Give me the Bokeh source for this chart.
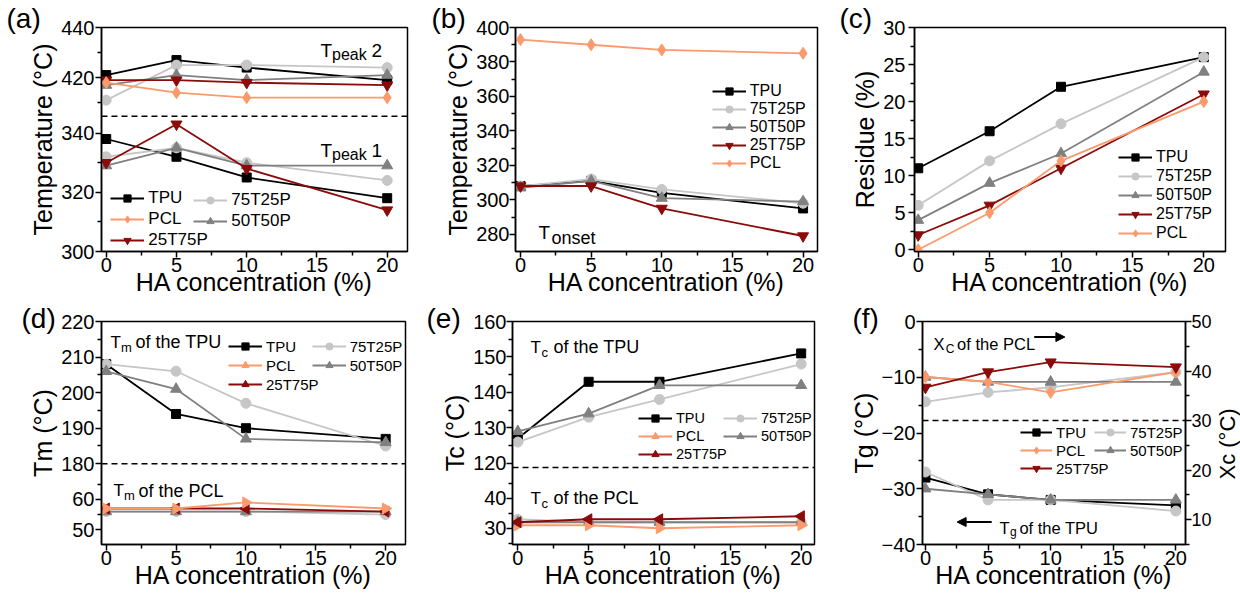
import math
from bokeh.plotting import figure
from bokeh.models import (Range1d, LinearAxis, FixedTicker, Span, Label, Title,
                          Legend, LegendItem, Arrow, NormalHead)
from bokeh.layouts import column, row
from bokeh.embed import file_html
from bokeh.resources import INLINE

# ---------------- data ----------------
ha_conc = [0, 5, 10, 20]
x_ticks = [0, 5, 10, 15, 20]

# (a) Tpeak (°C)
a_tpeak2_TPU = [421, 427, 424, 419]
a_tpeak2_75T25P = [411, 425, 425, 424]
a_tpeak2_50T50P = [417, 421, 419, 421]
a_tpeak2_25T75P = [419, 419, 418, 417]
a_tpeak2_PCL = [418, 414, 412, 412]
a_tpeak1_TPU = [338, 332, 325, 318]
a_tpeak1_75T25P = [332, 335, 330, 324]
a_tpeak1_50T50P = [329, 335, 329, 329]
a_tpeak1_25T75P = [330, 343, 328, 314]
a_ticks_low = [300, 320, 340]
a_ticks_up = [420, 440]

# (b) Tonset (°C)
b_TPU = [308, 311, 304, 295]
b_75T25P = [308, 312, 306, 298]
b_50T50P = [307, 311, 301, 299]
b_25T75P = [308, 308, 295, 279]
b_PCL = [393, 390, 387, 385]
b_ticks = [280, 300, 320, 340, 360, 380, 400]

# (c) Residue (%)
c_TPU = [11, 16, 22, 26]
c_75T25P = [6, 12, 17, 26]
c_50T50P = [4, 9, 13, 24]
c_25T75P = [2, 6, 11, 21]
c_PCL = [0, 5, 12, 20]
c_ticks = [0, 5, 10, 15, 20, 25, 30]

# (d) Tm (°C)
d_tm_tpu_TPU = [208, 194, 190, 187]
d_tm_tpu_75T25P = [208, 206, 197, 185]
d_tm_tpu_50T50P = [206, 201, 187, 186]
d_tm_pcl_75T25P = [56, 56, 56, 55]
d_tm_pcl_50T50P = [56, 56, 56, 56]
d_tm_pcl_25T75P = [57, 57, 57, 56]
d_tm_pcl_PCL = [57, 57, 59, 57]
d_ticks_low = [50, 60]
d_ticks_up = [180, 190, 200, 210, 220]

# (e) Tc (°C)
e_tc_tpu_TPU = [127, 143, 143, 151]
e_tc_tpu_75T25P = [126, 133, 138, 148]
e_tc_tpu_50T50P = [129, 134, 142, 142]
e_tc_pcl_75T25P = [33, 32, 32, 32]
e_tc_pcl_50T50P = [32, 32, 32, 32]
e_tc_pcl_25T75P = [32, 33, 33, 34]
e_tc_pcl_PCL = [31, 31, 30, 31]
e_ticks_low = [30, 40]
e_ticks_up = [120, 130, 140, 150, 160]

# (f) Tg (°C, left) and Xc (right)
f_tg_TPU = [-28, -31, -32, -33]
f_tg_75T25P = [-27, -32, -32, -34]
f_tg_50T50P = [-30, -31, -32, -32]
f_xc_75T25P = [33.8, 35.7, 36.7, 39.8]
f_xc_50T50P = [38.8, 37.8, 37.8, 37.8]
f_xc_25T75P = [36.7, 39.8, 41.8, 40.8]
f_xc_PCL = [38.8, 37.8, 35.7, 39.8]
f_ticks_left = [-40, -30, -20, -10, 0]
f_ticks_right = [10, 20, 30, 40, 50]
f_xc_divider = 30

# ---------------- style ----------------
FONT = "Liberation Sans"
COL = {"TPU": "#000000", "75T25P": "#c6c6c6", "50T50P": "#808080",
       "25T75P": "#8b0a0a", "PCL": "#fb9a6c"}
MRK = {"TPU": "square", "75T25P": "circle", "50T50P": "triangle",
       "25T75P": "inverted_triangle", "PCL": "diamond"}
MSIZE = {"square": 9, "circle": 10, "triangle": 11,
         "inverted_triangle": 11, "diamond": 12}


class Panel:
    def __init__(self, x0, y0, W, H, bl, br, bt, bb, xr, yr):
        self.W, self.H = W, H
        self.bl, self.br, self.bt, self.bb = bl, br, bt, bb
        self.fl = x0 + bl
        self.ft = y0 + bt
        self.fw = W - bl - br
        self.fh = H - bt - bb
        self.xr, self.yr = xr, yr

    def dx(self, px):
        return self.xr[0] + (px - self.fl) / self.fw * (self.xr[1] - self.xr[0])

    def dy(self, py):
        return self.yr[1] - (py - self.ft) / self.fh * (self.yr[1] - self.yr[0])


def minors_of(majors, lo=None, hi=None):
    step = majors[1] - majors[0]
    m = [(a + b) / 2 for a, b in zip(majors[:-1], majors[1:])]
    if lo is not None and majors[0] - step / 2 >= lo:
        m.insert(0, majors[0] - step / 2)
    if hi is not None and majors[-1] + step / 2 <= hi:
        m.append(majors[-1] + step / 2)
    return m


def style_axis(ax, label_standoff=1, axis_label_standoff=0, tick_label_size="20px"):
    ax.axis_line_width = 1.5
    ax.axis_line_color = "black"
    ax.major_tick_in = 0
    ax.major_tick_out = 6
    ax.minor_tick_in = 0
    ax.minor_tick_out = 4
    ax.major_tick_line_width = 1.5
    ax.minor_tick_line_width = 1.5
    ax.major_tick_line_color = "black"
    ax.minor_tick_line_color = "black"
    ax.major_label_text_font = FONT
    ax.major_label_text_font_size = tick_label_size
    ax.major_label_text_color = "black"
    ax.major_label_standoff = label_standoff
    ax.axis_label_text_font = FONT
    ax.axis_label_text_font_size = "25px"
    ax.axis_label_text_font_style = "normal"
    ax.axis_label_text_color = "black"
    ax.axis_label_standoff = axis_label_standoff


def make_fig(g, ylabel, ystandoff=1):
    p = figure(width=g.W, height=g.H, x_range=Range1d(*g.xr), y_range=Range1d(*g.yr),
               output_backend="svg", toolbar_location=None, title=None,
               min_border_left=g.bl, min_border_right=g.br,
               min_border_top=g.bt, min_border_bottom=g.bb)
    p.xgrid.visible = False
    p.ygrid.visible = False
    p.outline_line_color = "black"
    p.outline_line_width = 1.5
    p.outline_line_alpha = 1.0
    p.background_fill_color = "white"
    p.border_fill_color = "white"
    p.xaxis.ticker = FixedTicker(ticks=x_ticks, minor_ticks=minors_of(x_ticks))
    p.xaxis.axis_label = "HA concentration (%)"
    style_axis(p.xaxis[0], label_standoff=0, axis_label_standoff=-7)
    p.yaxis.axis_label = ylabel
    style_axis(p.yaxis[0], label_standoff=ystandoff, axis_label_standoff=1)
    return p


def series(p, y, name, rng="default", marker=None, angle=0.0):
    c = COL[name]
    m = marker or MRK[name]
    ln = p.line(ha_conc, y, line_color=c, line_width=1.8, y_range_name=rng)
    sc = p.scatter(ha_conc, y, marker=m, size=MSIZE[m], fill_color=c, line_color=c,
                   angle=angle, y_range_name=rng)
    return [ln, sc]


def add_legend(p, items, vx, vy, spacing=1, gw=34, fs=16):
    lg = Legend(items=[LegendItem(label=n, renderers=r) for n, r in items],
                location=(vx, vy), orientation="vertical", padding=0, margin=0,
                spacing=spacing, glyph_width=gw, glyph_height=18, label_height=18,
                label_standoff=4, label_text_font=FONT, label_text_font_size=f"{fs}px",
                label_text_color="black", background_fill_alpha=0, border_line_alpha=0)
    p.add_layout(lg)


def txt(p, g, px, py, s, size, **kw):
    p.add_layout(Label(x=g.dx(px), y=g.dy(py), text=s, text_font=FONT,
                       text_font_size=f"{size}px", text_baseline="alphabetic",
                       text_align=kw.pop("align", "left"), text_color="black", **kw))


def panel_tag(p, g, px, text, standoff):
    p.add_layout(Title(text=text, align="left", offset=px - g.fl, standoff=standoff,
                       vertical_align="bottom", text_font=FONT, text_font_size="28px",
                       text_font_style="normal", text_color="black"), "above")


def split_ranges(low, up, frac_low):
    lo_end = low[0] + (low[1] - low[0]) / frac_low
    up_start = up[1] - (up[1] - up[0]) / (1 - frac_low)
    return (low[0], lo_end), (up_start, up[1])


def broken_axis(p, lo_rng, up_rng, low_seg, up_seg, ticks_low, ticks_up):
    def to_lo(v):
        return lo_rng[0] + (v - up_rng[0]) / (up_rng[1] - up_rng[0]) * (lo_rng[1] - lo_rng[0])
    maj = list(ticks_low) + [to_lo(v) for v in ticks_up]
    mn = minors_of(ticks_low, low_seg[0], low_seg[1]) + \
        [to_lo(v) for v in minors_of(ticks_up, up_seg[0], up_seg[1])]
    p.yaxis[0].ticker = FixedTicker(ticks=maj, minor_ticks=mn)
    labels = [str(v) for v in ticks_low] + [str(v) for v in ticks_up]
    p.yaxis[0].major_label_overrides = {k: s for k, s in zip(maj, labels)}
    p.add_layout(Span(location=low_seg[1], dimension="width", line_color="black",
                      line_width=1.5, line_dash="6 4"))


# ---------------- panel (a) ----------------
a_low_seg, a_up_seg = (300, 345.7), (404.6, 440)
a_lo, a_up = split_ranges(a_low_seg, a_up_seg, 0.604)
gA = Panel(0, 0, 410, 301, 101, 3, 27, 50, (-0.335, 21.445), a_lo)
pA = make_fig(gA, "Temperature (°C)", 1)
pA.extra_y_ranges = {"up": Range1d(*a_up)}
broken_axis(pA, a_lo, a_up, a_low_seg, a_up_seg, a_ticks_low, a_ticks_up)
rA = {}
for name, lo_y, up_y in [("TPU", a_tpeak1_TPU, a_tpeak2_TPU),
                         ("75T25P", a_tpeak1_75T25P, a_tpeak2_75T25P),
                         ("50T50P", a_tpeak1_50T50P, a_tpeak2_50T50P),
                         ("25T75P", a_tpeak1_25T75P, a_tpeak2_25T75P),
                         ("PCL", None, a_tpeak2_PCL)]:
    r = series(pA, up_y, name, "up")
    if lo_y is not None:
        r = series(pA, lo_y, name)
    rA[name] = r
add_legend(pA, [("TPU", rA["TPU"]), ("PCL", rA["PCL"]), ("25T75P", rA["25T75P"])], 9.3, 1.3, fs=17)
add_legend(pA, [("75T25P", rA["75T25P"]), ("50T50P", rA["50T50P"])], 92.3, 20.3, fs=17)
panel_tag(pA, gA, 6, "(a)", -12)
for py, num in [(50, "2"), (150, "1")]:
    txt(pA, gA, 320, py, "T", 19)
    txt(pA, gA, 331.5, py + 3.5, "peak", 16)
    txt(pA, gA, 371, py, num, 19)

# ---------------- panel (b) ----------------
gB = Panel(410, 0, 410, 301, 105, 3, 27, 50, (-0.354, 21.02), (270, 400))
pB = make_fig(gB, "Temperature (°C)", 0)
pB.yaxis[0].ticker = FixedTicker(ticks=b_ticks, minor_ticks=minors_of(b_ticks))
rB = {}
for name, y in [("TPU", b_TPU), ("75T25P", b_75T25P), ("50T50P", b_50T50P),
                ("25T75P", b_25T75P), ("PCL", b_PCL)]:
    rB[name] = series(pB, y, name)
add_legend(pB, [(n, rB[n]) for n in ["TPU", "75T25P", "50T50P", "25T75P", "PCL"]],
           196.7, 79.3, spacing=0)
panel_tag(pB, gB, 431, "(b)", -12)
txt(pB, gB, 538, 232, "T", 19)
txt(pB, gB, 551, 237, "onset", 18)

# ---------------- panel (c) ----------------
gC = Panel(820, 0, 420, 301, 94, 15, 27, 50, (-0.26, 21.52), (-0.23, 30))
pC = make_fig(gC, "Residue (%)", 3)
pC.yaxis[0].ticker = FixedTicker(ticks=c_ticks, minor_ticks=minors_of(c_ticks))
rC = {}
for name, y in [("TPU", c_TPU), ("75T25P", c_75T25P), ("50T50P", c_50T50P),
                ("25T75P", c_25T75P), ("PCL", c_PCL)]:
    rC[name] = series(pC, y, name)
add_legend(pC, [(n, rC[n]) for n in ["TPU", "75T25P", "50T50P", "25T75P", "PCL"]],
           204, 9.3, spacing=1)
panel_tag(pC, gC, 839, "(c)", -12)

# ---------------- panel (d) ----------------
d_low_seg, d_up_seg = (45.1, 71.8), (180, 220)
d_lo, d_up = split_ranges(d_low_seg, d_up_seg, 0.362)
gD = Panel(0, 301, 410, 294, 101, 5, 20, 51, (-0.336, 21.42), d_lo)
pD = make_fig(gD, "Tm (°C)", 1)
pD.extra_y_ranges = {"up": Range1d(*d_up)}
broken_axis(pD, d_lo, d_up, d_low_seg, d_up_seg, d_ticks_low, d_ticks_up)
rD = {}
rD["TPU"] = series(pD, d_tm_tpu_TPU, "TPU", "up")
series(pD, d_tm_tpu_75T25P, "75T25P", "up")
series(pD, d_tm_tpu_50T50P, "50T50P", "up")
rD["75T25P"] = series(pD, d_tm_pcl_75T25P, "75T25P")
rD["50T50P"] = series(pD, d_tm_pcl_50T50P, "50T50P")
rD["25T75P"] = series(pD, d_tm_pcl_25T75P, "25T75P", marker="triangle", angle=math.pi / 2)
rD["PCL"] = series(pD, d_tm_pcl_PCL, "PCL", marker="triangle", angle=-math.pi / 2)
add_legend(pD, [("TPU", rD["TPU"]), ("PCL", rD["PCL"]), ("25T75P", rD["25T75P"])], 127, 151, fs=15)
add_legend(pD, [("75T25P", rD["75T25P"]), ("50T50P", rD["50T50P"])], 210.7, 170, fs=15)
panel_tag(pD, gD, 21, "(d)", -24)
for py, tail, x0 in [(341.7, "of the TPU", 110), (490, "of the PCL", 113)]:
    txt(pD, gD, x0, py, "T", 17)
    txt(pD, gD, x0 + 10.5, py + 5, "m", 13)
    txt(pD, gD, x0 + 25, py, tail, 18)

# ---------------- panel (e) ----------------
e_low_seg, e_up_seg = (24.6, 50.2), (118.8, 160)
e_lo, e_up = split_ranges(e_low_seg, e_up_seg, 0.345)
gE = Panel(410, 301, 410, 294, 102, 6, 20, 51, (-0.374, 20.94), e_lo)
pE = make_fig(gE, "Tc (°C)", 0)
pE.extra_y_ranges = {"up": Range1d(*e_up)}
broken_axis(pE, e_lo, e_up, e_low_seg, e_up_seg, e_ticks_low, e_ticks_up)
rE = {}
rE["TPU"] = series(pE, e_tc_tpu_TPU, "TPU", "up")
series(pE, e_tc_tpu_75T25P, "75T25P", "up")
series(pE, e_tc_tpu_50T50P, "50T50P", "up")
rE["75T25P"] = series(pE, e_tc_pcl_75T25P, "75T25P")
rE["50T50P"] = series(pE, e_tc_pcl_50T50P, "50T50P")
rE["PCL"] = series(pE, e_tc_pcl_PCL, "PCL", marker="triangle", angle=-math.pi / 2)
rE["25T75P"] = series(pE, e_tc_pcl_25T75P, "25T75P", marker="triangle", angle=math.pi / 2)
add_legend(pE, [("TPU", rE["TPU"]), ("PCL", rE["PCL"]), ("25T75P", rE["25T75P"])], 126, 81.3,
           spacing=0, fs=14.5)
add_legend(pE, [("75T25P", rE["75T25P"]), ("50T50P", rE["50T50P"])], 211, 99.3,
           spacing=0, fs=14.5)
panel_tag(pE, gE, 426, "(e)", -24)
for py, tail in [(346.7, "of the TPU"), (497.7, "of the PCL")]:
    txt(pE, gE, 530, py, "T", 17)
    txt(pE, gE, 541, py + 5, "c", 13)
    txt(pE, gE, 553, py, tail, 18)

# ---------------- panel (f) ----------------
gF = Panel(820, 301, 394, 294, 102, 26, 20, 51, (-0.237, 20.77), (-40, 0))
pF = make_fig(gF, "Tg (°C)", 1)
pF.yaxis[0].ticker = FixedTicker(ticks=f_ticks_left, minor_ticks=minors_of(f_ticks_left))
pF.extra_y_ranges = {"xc": Range1d(5, 50)}
ax_r = LinearAxis(y_range_name="xc",
                  ticker=FixedTicker(ticks=f_ticks_right, minor_ticks=minors_of(f_ticks_right, 5, 50)))
style_axis(ax_r, label_standoff=0, tick_label_size="18px")
pF.add_layout(ax_r, "right")
pF.add_layout(Span(location=f_xc_divider, dimension="width", y_range_name="xc",
                   line_color="black", line_width=1.5, line_dash="6 4"))
rF = {}
rF["TPU"] = series(pF, f_tg_TPU, "TPU")
series(pF, f_tg_75T25P, "75T25P")
series(pF, f_tg_50T50P, "50T50P")
rF["75T25P"] = series(pF, f_xc_75T25P, "75T25P", "xc")
rF["50T50P"] = series(pF, f_xc_50T50P, "50T50P", "xc")
rF["PCL"] = series(pF, f_xc_PCL, "PCL", "xc")
rF["25T75P"] = series(pF, f_xc_25T75P, "25T75P", "xc")
add_legend(pF, [("TPU", rF["TPU"]), ("PCL", rF["PCL"]), ("25T75P", rF["25T75P"])], 98, 66.7,
           spacing=0, gw=32, fs=15)
add_legend(pF, [("75T25P", rF["75T25P"]), ("50T50P", rF["50T50P"])], 172, 84.7,
           spacing=0, gw=32, fs=15)
panel_tag(pF, gF, 852, "(f)", -24)
txt(pF, gF, 933, 343, "X", 16.5)
txt(pF, gF, 945.5, 348.5, "C", 12)
txt(pF, gF, 957, 343, "of the PCL", 16.5)
pF.add_layout(Arrow(x_start=gF.dx(1035), y_start=gF.dy(336.5), x_end=gF.dx(1066), y_end=gF.dy(336.5),
                    line_width=2, line_color="black",
                    end=NormalHead(size=9, fill_color="black", line_color="black")))
pF.add_layout(Arrow(x_start=gF.dx(992), y_start=gF.dy(521.5), x_end=gF.dx(957), y_end=gF.dy(521.5),
                    line_width=2, line_color="black",
                    end=NormalHead(size=9, fill_color="black", line_color="black")))
txt(pF, gF, 1000, 527, "T", 16.5)
txt(pF, gF, 1010.5, 531, "g", 12)
txt(pF, gF, 1020, 527, "of the TPU", 16.5)

# right-hand axis title of (f), read bottom-to-top, in a narrow strip
pXc = figure(width=26, height=294, x_axis_type=None, y_axis_type=None, title=None,
             output_backend="svg", toolbar_location=None,
             min_border_left=17, min_border_right=0, min_border_top=20, min_border_bottom=51)
pXc.outline_line_color = None
pXc.xgrid.visible = False
pXc.ygrid.visible = False
pXc.background_fill_color = "white"
pXc.border_fill_color = "white"
pXc.add_layout(Title(text="Xc (°C)", align="left", offset=65, standoff=-17, vertical_align="bottom",
                     text_font=FONT, text_font_size="22px", text_font_style="normal",
                     text_color="black"), "left")

layout = column(row(pA, pB, pC), row(pD, pE, pF, pXc))
open("out.html", "w").write(file_html(layout, INLINE))
